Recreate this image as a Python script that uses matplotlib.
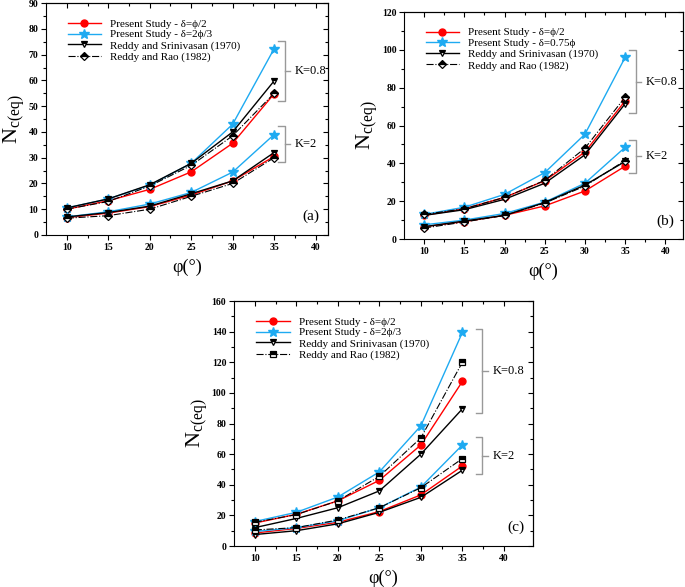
import matplotlib
matplotlib.use("Agg")
import matplotlib.pyplot as plt
import numpy as np

plt.rcParams['font.family'] = ['Liberation Serif', 'DejaVu Serif']
plt.rcParams['mathtext.fontset'] = 'custom'
plt.rcParams['mathtext.rm'] = 'Liberation Serif'
plt.rcParams['mathtext.it'] = 'Liberation Serif:italic'

phi = [10, 15, 20, 25, 30, 35]

# panel (a)  K=0.8 / K=2
a_red_08 = [10, 13.3, 17.7, 24.5, 35.6, 54.8]
a_blue_08 = [10.5, 14, 19.3, 27.8, 43, 72.3]
a_sri_08 = [10.5, 14, 19.5, 27.8, 40, 59.8]
a_rao_08 = [10, 13, 19, 27, 38.5, 55]
a_red_2 = [6.7, 8.5, 11, 15.5, 21, 30.5]
a_blue_2 = [7, 9, 12, 16.5, 24.4, 39]
a_sri_2 = [7, 8.7, 11.2, 16, 21, 32]
a_rao_2 = [6.5, 7.5, 10, 15, 20, 30]

# panel (b)
b_red_08 = [12.5, 16, 22, 30.8, 46, 73]
b_blue_08 = [13, 16.8, 23.6, 35.1, 55.4, 96]
b_sri_08 = [12.5, 15.5, 21, 29.5, 44.5, 71.5]
b_rao_08 = [13, 16, 22, 31, 48, 75]
b_red_2 = [6.5, 9.2, 12.5, 17.5, 25.4, 38.5]
b_blue_2 = [7.5, 10, 13.5, 19.5, 29.5, 48.5]
b_sri_2 = [6.5, 9.5, 12.5, 19.3, 28.5, 41]
b_rao_2 = [5.8, 9, 12.5, 19, 28, 41.5]

# panel (c)
c_red_08 = [15, 20.7, 29.5, 42.9, 66, 107.5]
c_blue_08 = [16, 22, 32, 48.4, 78.5, 139.5]
c_sri_08 = [12, 18, 25, 36, 60, 89.6]
c_rao_08 = [15.5, 20.5, 29.5, 45.5, 70.6, 120]
c_red_2 = [8.5, 11.5, 15.5, 22.5, 33.4, 52.3]
c_blue_2 = [9.5, 12, 16.5, 25, 38.5, 66]
c_sri_2 = [7.5, 10, 14.5, 22, 31.8, 49.5]
c_rao_2 = [10.5, 12, 17, 25, 38.1, 57.1]

labels_a = ['Present Study - δ=ϕ/2', 'Present Study - δ=2ϕ/3',
            'Reddy and Srinivasan (1970)', 'Reddy and Rao (1982)']
labels_b = ['Present Study - δ=ϕ/2', 'Present Study - δ=0.75ϕ',
            'Reddy and Srinivasan (1970)', 'Reddy and Rao (1982)']

RED = '#ff0000'
BLUE = '#1eaaf1'


def draw_series(ax, y, kind, rao_marker, label=None):
    if kind == 'red':
        ax.plot(phi, y, '-', color=RED, lw=1, marker='o', ms=5, label=label)
    elif kind == 'blue':
        ax.plot(phi, y, '-', color=BLUE, lw=1, marker='*', ms=7, label=label)
    elif kind == 'sri':
        ax.plot(phi, y, '-', color='black', lw=1, marker='v', ms=5,
                fillstyle='top', markerfacecolor='black',
                markerfacecoloralt='white', markeredgecolor='black',
                markeredgewidth=0.9, label=label)
    else:
        ax.plot(phi, y, '-.', color='black', lw=0.8, marker=rao_marker,
                ms=4.5 if rao_marker == 'D' else 5,
                fillstyle='top', markerfacecolor='black',
                markerfacecoloralt='white', markeredgecolor='black',
                markeredgewidth=0.9, label=label)


def brace(ax, x, y0, y1, w, text):
    ym = (y0 + y1) / 2
    ax.plot([x - w, x, x, x - w], [y1, y1, y0, y0], color='#999999', lw=1,
            clip_on=False)
    ax.plot([x, x + w * 0.8], [ym, ym], color='#999999', lw=1, clip_on=False)
    ax.text(x + w * 1.5, ym, text, fontsize=9, va='center', ha='left')


def style(ax, xlim, ylim, ymaj, ymin, tag):
    ax.set_xlim(*xlim)
    ax.set_ylim(*ylim)
    ax.set_xticks([10, 15, 20, 25, 30, 35, 40])
    ax.set_xticks(np.arange(12.5, 40, 5), minor=True)
    ax.set_yticks(np.arange(ylim[0], ylim[1] + 1, ymaj))
    ax.set_yticks(np.arange(ylim[0] + ymin, ylim[1], ymaj), minor=True)
    ax.tick_params(which='both', direction='out', top=False, right=False,
                   labelsize=7, width=0.8, pad=2)
    ax.tick_params(which='major', length=3.5)
    ax.tick_params(which='minor', length=2)
    for lab in ax.get_xticklabels() + ax.get_yticklabels():
        lab.set_fontweight('bold')
    sec = ax.secondary_xaxis('top')
    sec.set_xticks([10, 15, 20, 25, 30, 35, 40])
    sec.set_xticks(np.arange(12.5, 40, 5), minor=True)
    sec.tick_params(which='both', direction='in', labeltop=False, width=0.8)
    sec.tick_params(which='major', length=3.5)
    sec.tick_params(which='minor', length=2)
    sec2 = ax.secondary_yaxis('right')
    sec2.set_yticks(np.arange(ylim[0], ylim[1] + 1, ymaj))
    sec2.set_yticks(np.arange(ylim[0] + ymin, ylim[1], ymaj), minor=True)
    sec2.tick_params(which='both', direction='in', labelright=False, width=0.8)
    sec2.tick_params(which='major', length=3.5)
    sec2.tick_params(which='minor', length=2)
    ax.set_xlabel('φ(°)', fontsize=13, labelpad=5)
    ax.set_ylabel(r'$\mathrm{N_{c(eq)}}$', fontsize=16, labelpad=1)
    ax.text(0.97, 0.05, tag, transform=ax.transAxes, fontsize=11,
            ha='right', va='bottom')
    ax.legend(loc='upper left', frameon=False, fontsize=8, handlelength=3.0,
              labelspacing=0.1, borderaxespad=0.8, bbox_to_anchor=(0.03, 0.99))


fig = plt.figure(figsize=(6.85, 5.87), dpi=100)

# (a)
ax = fig.add_axes([0.0672, 0.5997, 0.4117, 0.395])
for y, k, lab in [(a_red_08, 'red', labels_a[0]), (a_blue_08, 'blue', labels_a[1]),
                  (a_sri_08, 'sri', labels_a[2]), (a_rao_08, 'rao', labels_a[3])]:
    draw_series(ax, y, k, 'D', lab)
for y, k in [(a_red_2, 'red'), (a_blue_2, 'blue'), (a_sri_2, 'sri'), (a_rao_2, 'rao')]:
    draw_series(ax, y, k, 'D')
style(ax, (7.5, 41.5), (0, 90), 10, 5, '(a)')
brace(ax, 36.3, 52, 75.3, 0.8, 'K=0.8')
brace(ax, 36.3, 28.3, 42.3, 0.8, 'K=2')

# (b)
ax = fig.add_axes([0.5898, 0.5928, 0.4073, 0.3867])
for y, k, lab in [(b_red_08, 'red', labels_b[0]), (b_blue_08, 'blue', labels_b[1]),
                  (b_sri_08, 'sri', labels_b[2]), (b_rao_08, 'rao', labels_b[3])]:
    draw_series(ax, y, k, 'D', lab)
for y, k in [(b_red_2, 'red'), (b_blue_2, 'blue'), (b_sri_2, 'sri'), (b_rao_2, 'rao')]:
    draw_series(ax, y, k, 'D')
style(ax, (7.5, 42.2), (0, 120), 20, 10, '(b)')
brace(ax, 36.3, 66.6, 99.9, 0.8, 'K=0.8')
brace(ax, 36.3, 35, 52.3, 0.8, 'K=2')

# (c)
ax = fig.add_axes([0.3416, 0.0698, 0.4365, 0.4174])
for y, k, lab in [(c_red_08, 'red', labels_a[0]), (c_blue_08, 'blue', labels_a[1]),
                  (c_sri_08, 'sri', labels_a[2]), (c_rao_08, 'rao', labels_a[3])]:
    draw_series(ax, y, k, 's', lab)
for y, k in [(c_red_2, 'red'), (c_blue_2, 'blue'), (c_sri_2, 'sri'), (c_rao_2, 'rao')]:
    draw_series(ax, y, k, 's')
style(ax, (7.5, 43.5), (0, 160), 20, 10, '(c)')
brace(ax, 37.4, 86.9, 141.7, 0.8, 'K=0.8')
brace(ax, 37.4, 47, 71.2, 0.8, 'K=2')

fig.savefig('out.png', dpi=100)
